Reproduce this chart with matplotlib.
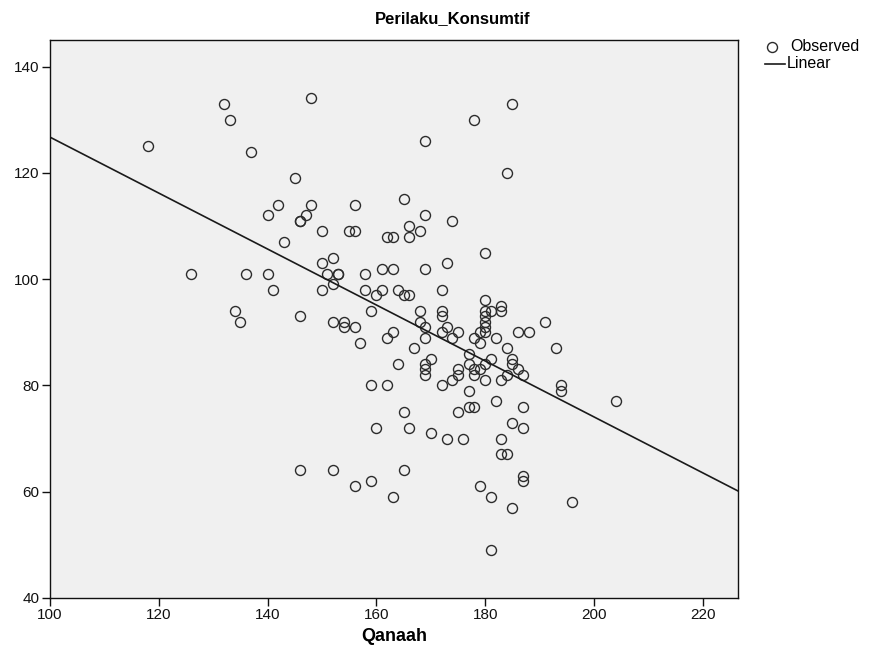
import numpy as np
import matplotlib.pyplot as plt
from matplotlib.lines import Line2D

# ============================================================
# Scatter Qanaah vs Perilaku_Konsumtif + garis linear
# ============================================================

plt.rcParams["font.family"] = ["Liberation Sans", "DejaVu Sans"]

qanaah = [
    132, 148, 133, 118, 137, 145, 142, 148, 156, 140, 147, 146, 146, 150, 155, 156, 162, 163, 143,
    185, 178, 169, 184, 165, 169, 174, 166, 168, 166, 180,
    152, 150, 126, 136, 140, 151, 153, 153, 158, 161, 152, 141, 150, 158, 161, 160, 134, 159,
    135, 146, 152, 154, 154, 156, 157, 162, 163, 159, 162,
    163, 169, 173, 164, 165, 166, 172, 180, 183, 183, 181, 180, 180, 180, 180, 180, 172, 172,
    168, 168, 169, 173, 172, 175, 174, 169, 178, 179, 182, 179, 186, 188, 191, 193, 167, 184,
    177, 170, 164, 169, 169, 169, 177, 181, 180, 185, 185, 175, 175, 178, 179, 178, 186, 184,
    187, 174, 180, 183, 172, 177, 194, 194, 182, 204, 165, 175, 177, 178, 187,
    160, 166, 185, 187, 170, 173, 176, 183, 183, 184, 165, 187, 187, 179, 163, 181, 185, 196, 181,
    146, 152, 156, 159,
]

perilaku = [
    133, 134, 130, 125, 124, 119, 114, 114, 114, 112, 112, 111, 111, 109, 109, 109, 108, 108, 107,
    133, 130, 126, 120, 115, 112, 111, 110, 109, 108, 105,
    104, 103, 101, 101, 101, 101, 101, 101, 101, 102, 99, 98, 98, 98, 98, 97, 94, 94,
    92, 93, 92, 92, 91, 91, 88, 89, 90, 80, 80,
    102, 102, 103, 98, 97, 97, 98, 96, 95, 94, 94, 94, 93, 92, 91, 90, 94, 93,
    94, 92, 91, 91, 90, 90, 89, 89, 89, 90, 89, 88, 90, 90, 92, 87, 87, 87,
    86, 85, 84, 84, 83, 82, 84, 85, 84, 85, 84, 83, 82, 83, 83, 82, 83, 82,
    82, 81, 81, 81, 80, 79, 80, 79, 77, 77, 75, 75, 76, 76, 76,
    72, 72, 73, 72, 71, 70, 70, 70, 67, 67, 64, 63, 62, 61, 59, 59, 57, 58, 49,
    64, 64, 61, 62,
]

x = np.array(qanaah)
y = np.array(perilaku)

# garis regresi linear dari data
slope, intercept = np.polyfit(x, y, 1)

fig = plt.figure(figsize=(8.73, 6.59), dpi=100)
ax = fig.add_axes([0.0573, 0.0926, 0.7881, 0.8467])
ax.set_facecolor("#f0f0f0")

marker_style = dict(marker="o", markersize=7.2, markerfacecolor="none",
                    markeredgecolor="#2b2b2b", markeredgewidth=1.0)

ax.plot(x, y, linestyle="none", **marker_style)

x_line = np.array([100, 226.5])
ax.plot(x_line, intercept + slope * x_line, color="#1a1a1a", linewidth=1.2)

ax.set_xlim(100, 226.5)
ax.set_ylim(40, 145)
ax.set_xticks(range(100, 221, 20))
ax.set_yticks(range(40, 141, 20))
ax.tick_params(direction="out", length=6, width=1, pad=1.5, labelsize=11, colors="#111111")

for spine in ax.spines.values():
    spine.set_color("#111111")
    spine.set_linewidth(1.0)

ax.set_xlabel("Qanaah", fontsize=13, fontweight="bold", labelpad=4)
fig.text(0.518, 0.972, "Perilaku_Konsumtif", fontsize=12, fontweight="bold",
         ha="center", va="center")

# ============================================================
# Legenda di kanan atas
# ============================================================

fig.add_artist(Line2D([0.8843], [0.9287], transform=fig.transFigure,
                      linestyle="none", **marker_style))
fig.add_artist(Line2D([0.8763, 0.8992], [0.9029, 0.9029], transform=fig.transFigure,
                      color="#1a1a1a", linewidth=1.2))
fig.text(0.9049, 0.9287, "Observed", fontsize=11.5, ha="left", va="center")
fig.text(0.9015, 0.9029, "Linear", fontsize=11.5, ha="left", va="center")

fig.savefig("out.png", dpi=100)
